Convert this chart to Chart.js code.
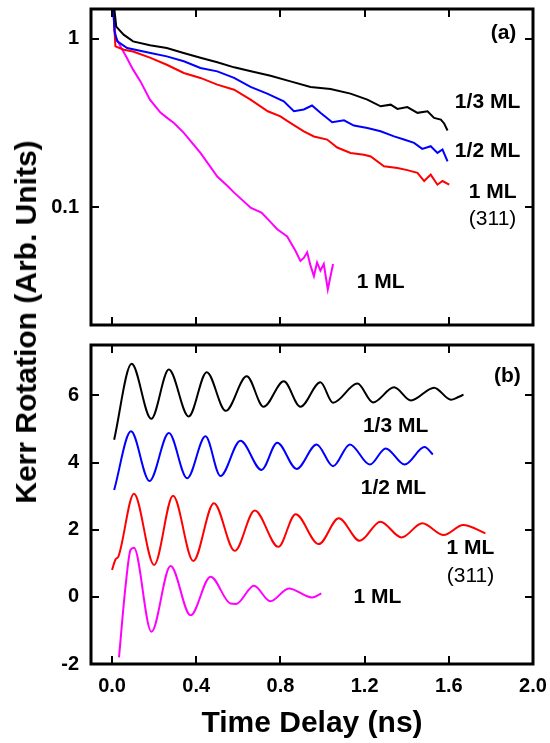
<!DOCTYPE html>
<html>
<head>
<meta charset="utf-8">
<script src="https://cdn.jsdelivr.net/npm/chart.js@4.4.1/dist/chart.umd.min.js"></script>
<style>
  body { margin: 0; background: #fff; }
  #wrap { position: relative; width: 550px; height: 743px; background: #fff; font-family: "Liberation Sans", Arial, sans-serif; }
  canvas { position: absolute; left: 0; }
  #chartA { top: 0; }
  #chartB { top: 335px; }
  .title { position: absolute; font-weight: bold; font-size: 30px; color: #000; white-space: nowrap; }
  #ytitle { left: 26px; top: 322px; transform: translate(-50%, -50%) rotate(-90deg); }
  #xtitle { left: 312px; top: 722px; transform: translate(-50%, -50%); }
</style>
</head>
<body>
<div id="wrap">
  <canvas id="chartA" width="550" height="335"></canvas>
  <canvas id="chartB" width="550" height="408"></canvas>
  <div class="title" id="ytitle">Kerr Rotation (Arb. Units)</div>
  <div class="title" id="xtitle">Time Delay (ns)</div>
</div>
<script>
// ---- panel (a): decay curves, log scale ----
const decayTime13 = [0, 0.02, 0.055, 0.1, 0.18, 0.26, 0.34, 0.42, 0.5, 0.58, 0.66, 0.753, 0.848, 0.943, 1.038, 1.133, 1.213, 1.276, 1.324, 1.356, 1.403, 1.451, 1.499, 1.53, 1.562, 1.578, 1.594];
const decayVal13  = [2.0, 1.18, 1.056, 0.964, 0.913, 0.88, 0.822, 0.77, 0.724, 0.676, 0.64, 0.603, 0.558, 0.517, 0.503, 0.472, 0.435, 0.397, 0.406, 0.383, 0.393, 0.363, 0.371, 0.339, 0.331, 0.314, 0.285];

const decayTime12 = [0, 0.012, 0.025, 0.072, 0.183, 0.26, 0.341, 0.42, 0.5, 0.58, 0.658, 0.74, 0.816, 0.864, 0.911, 0.95, 0.99, 1.046, 1.102, 1.149, 1.213, 1.276, 1.34, 1.387, 1.435, 1.474, 1.514, 1.546, 1.57, 1.594];
const decayVal12  = [2.0, 1.1, 0.964, 0.88, 0.822, 0.785, 0.734, 0.67, 0.64, 0.585, 0.517, 0.47, 0.425, 0.371, 0.38, 0.401, 0.363, 0.319, 0.328, 0.305, 0.295, 0.282, 0.263, 0.252, 0.241, 0.222, 0.23, 0.21, 0.22, 0.187];

const decayTime311 = [0, 0.016, 0.056, 0.1, 0.183, 0.26, 0.341, 0.42, 0.5, 0.58, 0.658, 0.74, 0.8, 0.832, 0.911, 0.959, 1.022, 1.07, 1.133, 1.197, 1.229, 1.292, 1.356, 1.403, 1.451, 1.483, 1.514, 1.546, 1.57, 1.602];
const decayVal311  = [2.0, 0.9, 0.86, 0.84, 0.77, 0.70, 0.626, 0.585, 0.534, 0.498, 0.435, 0.371, 0.346, 0.325, 0.282, 0.263, 0.252, 0.226, 0.21, 0.205, 0.2, 0.175, 0.171, 0.166, 0.16, 0.143, 0.156, 0.136, 0.143, 0.136];

const decayTime1 = [0, 0.016, 0.04, 0.07, 0.1, 0.135, 0.18, 0.23, 0.26, 0.294, 0.34, 0.42, 0.5, 0.55, 0.58, 0.66, 0.71, 0.74, 0.785, 0.832, 0.872, 0.895, 0.911, 0.927, 0.943, 0.959, 0.974, 0.99, 1.006, 1.025, 1.05];
const decayVal1  = [2.0, 1.03, 0.9, 0.77, 0.655, 0.558, 0.435, 0.364, 0.34, 0.316, 0.277, 0.21, 0.152, 0.133, 0.122, 0.099, 0.093, 0.085, 0.074, 0.067, 0.055, 0.048, 0.05, 0.054, 0.045, 0.039, 0.047, 0.042, 0.046, 0.0325, 0.046];

// ---- panel (b): oscillations, offset linear scale ----
const oscTime13 = [0.01, 0.093, 0.186, 0.27, 0.364, 0.45, 0.54, 0.64, 0.72, 0.816, 0.895, 0.99, 1.05, 1.166, 1.24, 1.34, 1.42, 1.53, 1.61, 1.645, 1.67];
const oscVal13  = [4.68, 6.94, 5.30, 6.77, 5.37, 6.69, 5.54, 6.57, 5.66, 6.42, 5.66, 6.39, 5.78, 6.35, 5.79, 6.24, 5.85, 6.23, 5.87, 5.95, 6.02];

const oscTime12 = [0.01, 0.09, 0.178, 0.27, 0.357, 0.444, 0.515, 0.61, 0.71, 0.785, 0.877, 0.972, 1.05, 1.13, 1.225, 1.3, 1.39, 1.485, 1.524];
const oscVal12  = [3.18, 4.93, 3.45, 4.88, 3.53, 4.78, 3.6, 4.65, 3.78, 4.59, 3.81, 4.54, 3.89, 4.54, 3.94, 4.42, 3.94, 4.46, 4.24];

const oscTime311 = [0, 0.017, 0.03, 0.104, 0.2, 0.29, 0.386, 0.484, 0.583, 0.678, 0.79, 0.872, 0.982, 1.077, 1.177, 1.275, 1.375, 1.474, 1.576, 1.668, 1.774];
const oscVal311  = [0.8, 1.12, 1.2, 3.07, 0.95, 3.01, 1.07, 2.79, 1.37, 2.57, 1.49, 2.46, 1.57, 2.34, 1.67, 2.24, 1.77, 2.19, 1.84, 2.14, 1.89];

const oscTime1 = [0.033, 0.064, 0.088, 0.104, 0.187, 0.278, 0.373, 0.468, 0.563, 0.59, 0.674, 0.752, 0.84, 0.95, 0.994];
const oscVal1  = [-1.8, 0.31, 1.4, 1.46, -1.04, 0.92, -0.55, 0.6, -0.2, -0.21, 0.33, -0.13, 0.25, -0.02, 0.1];

const seriesNames  = ['1/3 ML', '1/2 ML', '1 ML (311)', '1 ML'];
const seriesColors = ['#000000', '#0000ff', '#ff0000', '#ff00ff'];

const xTickLabels = ['0.0', '0.4', '0.8', '1.2', '1.6', '2.0'];
const yTickLabelsB = ['-2', '0', '2', '4', '6'];
const yTickLabelsA = ['0.1', '1'];

const FONT = '"Liberation Sans", Arial, sans-serif';
Chart.defaults.font.family = FONT;
Chart.defaults.color = '#000';

function pts(ts, vs) { return ts.map((t, i) => ({ x: t, y: vs[i] })); }

function isMajorX(v) { const k = Math.round(v * 10); return k % 4 === 0; }
function isMajorY(scale, v) {
  if (scale.type === 'logarithmic') {
    const e = Math.log10(v);
    return Math.abs(e - Math.round(e)) < 1e-6;
  }
  return Math.round(v) % 2 === 0;
}

// inward ticks on all four sides + heavy frame
const frameTicks = {
  id: 'frameTicks',
  afterDraw(chart) {
    const { ctx, chartArea: a, scales } = chart;
    const x = scales.x, y = scales.y;
    ctx.save();
    ctx.strokeStyle = '#000';
    ctx.lineWidth = 2;
    ctx.beginPath();
    x.ticks.forEach(t => {
      const px = Math.round(x.getPixelForValue(t.value));
      if (px < a.left + 2 || px > a.right - 2) return;
      const len = isMajorX(t.value) ? 8 : 4;
      ctx.moveTo(px, a.bottom); ctx.lineTo(px, a.bottom - len);
      ctx.moveTo(px, a.top); ctx.lineTo(px, a.top + len);
    });
    y.ticks.forEach(t => {
      const py = Math.round(y.getPixelForValue(t.value));
      if (py < a.top + 2 || py > a.bottom - 2) return;
      const len = isMajorY(y, t.value) ? 8 : 4;
      ctx.moveTo(a.left, py); ctx.lineTo(a.left + len, py);
      ctx.moveTo(a.right, py); ctx.lineTo(a.right - len, py);
    });
    ctx.stroke();
    ctx.lineWidth = 3;
    ctx.strokeRect(a.left, a.top, a.right - a.left, a.bottom - a.top);
    ctx.restore();
  }
};

function textPlugin(items) {
  return {
    id: 'textLabels',
    afterDatasetsDraw(chart) {
      const { ctx, scales: { x, y } } = chart;
      ctx.save();
      ctx.fillStyle = '#000';
      ctx.textAlign = 'center';
      ctx.textBaseline = 'middle';
      items.forEach(l => {
        ctx.font = (l.bold ? 'bold ' : '') + '21px ' + FONT;
        ctx.fillText(l.text, x.getPixelForValue(l.x), y.getPixelForValue(l.y));
      });
      ctx.restore();
    }
  };
}

function xScale(showLabels, height) {
  return {
    type: 'linear', min: -0.1, max: 2.0,
    grid: { display: false, drawTicks: false }, border: { display: false },
    afterBuildTicks: s => { const t = []; for (let i = -1; i <= 20; i++) t.push({ value: i / 10 }); s.ticks = t; },
    ticks: {
      display: showLabels, autoSkip: false, maxRotation: 0, padding: 10,
      font: { size: 20, weight: 'bold' },
      callback: v => { const k = Math.round(v * 10); return (k >= 0 && k % 4 === 0) ? xTickLabels[k / 4] : null; }
    },
    afterFit: s => { s.height = height; s.paddingLeft = 0; s.paddingRight = 0; }
  };
}

function lineSet(i, data, smooth) {
  return {
    label: seriesNames[i], data, borderColor: seriesColors[i], borderWidth: 2,
    pointRadius: 0, fill: false,
    tension: smooth ? 0.4 : 0, cubicInterpolationMode: smooth ? 'monotone' : 'default'
  };
}

const common = {
  responsive: false, animation: false, devicePixelRatio: 1,
  plugins: { legend: { display: false }, tooltip: { enabled: false } }
};

new Chart(document.getElementById('chartA'), {
  type: 'line',
  data: {
    datasets: [
      lineSet(0, pts(decayTime13, decayVal13), false),
      lineSet(1, pts(decayTime12, decayVal12), false),
      lineSet(2, pts(decayTime311, decayVal311), false),
      lineSet(3, pts(decayTime1, decayVal1), false)
    ]
  },
  options: {
    ...common,
    layout: { padding: { top: 9, right: 17, left: 0, bottom: 0 } },
    scales: {
      x: xScale(false, 10),
      y: {
        type: 'logarithmic', min: 0.02, max: 1.5,
        grid: { display: false, drawTicks: false }, border: { display: false },
        afterBuildTicks: s => {
          const t = [];
          [0.01, 0.1].forEach(d => { for (let m = 2; m <= 9; m++) t.push({ value: m * d }); });
          t.push({ value: 0.1 }); t.push({ value: 1 });
          t.sort((p, q) => p.value - q.value);
          s.ticks = t;
        },
        ticks: {
          autoSkip: false, padding: 12, font: { size: 20, weight: 'bold' },
          callback: v => Math.abs(v - 1) < 1e-9 ? yTickLabelsA[1] : (Math.abs(v - 0.1) < 1e-9 ? yTickLabelsA[0] : null)
        },
        afterFit: s => { s.width = 91; s.paddingTop = 0; s.paddingBottom = 0; }
      }
    }
  },
  plugins: [frameTicks, textPlugin([
    { text: '(a)', x: 1.86, y: 1.085, bold: true },
    { text: '1/3 ML', x: 1.784, y: 0.418, bold: true },
    { text: '1/2 ML', x: 1.784, y: 0.214, bold: true },
    { text: '1 ML', x: 1.808, y: 0.122, bold: true },
    { text: '(311)', x: 1.808, y: 0.0845, bold: false },
    { text: '1 ML', x: 1.276, y: 0.0358, bold: true }
  ])]
});

new Chart(document.getElementById('chartB'), {
  type: 'line',
  data: {
    datasets: [
      lineSet(0, pts(oscTime13, oscVal13), true),
      lineSet(1, pts(oscTime12, oscVal12), true),
      lineSet(2, pts(oscTime311, oscVal311), true),
      lineSet(3, pts(oscTime1, oscVal1), true)
    ]
  },
  options: {
    ...common,
    layout: { padding: { top: 10, right: 17, left: 0, bottom: 0 } },
    scales: {
      x: xScale(true, 79),
      y: {
        type: 'linear', min: -2, max: 7.5,
        grid: { display: false, drawTicks: false }, border: { display: false },
        afterBuildTicks: s => { const t = []; for (let i = -2; i <= 7; i++) t.push({ value: i }); s.ticks = t; },
        ticks: {
          autoSkip: false, padding: 12, font: { size: 20, weight: 'bold' },
          callback: v => { const k = Math.round(v); return k % 2 === 0 ? yTickLabelsB[(k + 2) / 2] : null; }
        },
        afterFit: s => { s.width = 91; s.paddingTop = 0; s.paddingBottom = 0; }
      }
    }
  },
  plugins: [frameTicks, textPlugin([
    { text: '(b)', x: 1.878, y: 6.57, bold: true },
    { text: '1/3 ML', x: 1.347, y: 5.07, bold: true },
    { text: '1/2 ML', x: 1.337, y: 3.25, bold: true },
    { text: '1 ML', x: 1.703, y: 1.46, bold: true },
    { text: '(311)', x: 1.703, y: 0.6, bold: false },
    { text: '1 ML', x: 1.261, y: 0.0, bold: true }
  ])]
});
</script>
</body>
</html>
